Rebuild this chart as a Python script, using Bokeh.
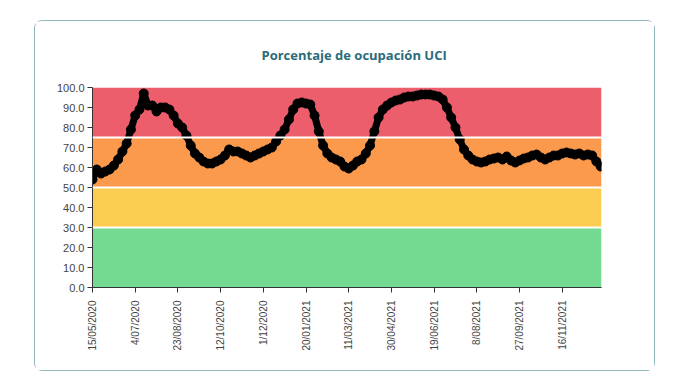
import pandas as pd
from math import pi
from bokeh.plotting import figure
from bokeh.models import (FixedTicker, PrintfTickFormatter, Span, Range1d,
                          Spacer, CustomJSTickFormatter)
from bokeh.layouts import column, row
from bokeh.embed import file_html
from bokeh.resources import INLINE

# ---------------- data ----------------
start_date = "2020-05-15"
step_days = 5
occupancy = [
    54, 59, 57, 58, 59, 61, 64, 68, 72, 79,
    86, 89, 97, 91, 91, 88, 90, 90, 89, 86,
    82, 80, 76, 71, 67, 65, 63, 62, 62, 63,
    64, 66, 69, 68, 68, 67, 66, 65, 66, 67,
    68, 69, 70, 73, 76, 79, 84, 89, 92, 92.5,
    92, 91.5, 86, 78, 71, 67, 65, 64, 63, 60.5,
    59.5, 61, 63, 64, 67, 71, 78, 85, 89, 91,
    92.5, 93.5, 94, 95, 95.5, 95.5, 96, 96.5, 96.5, 96.5,
    96, 95.5, 94, 90, 85, 80, 74, 69, 66, 64,
    63, 62.5, 63, 64, 64.5, 65, 64, 65.5, 63.5, 62.5,
    63.5, 64.5, 65, 66, 66.5, 65, 64, 65, 66, 66,
    67, 67.5, 67, 66.5, 67, 66, 66.5, 66, 63, 60.5,
]
tick_labels = ["15/05/2020", "4/07/2020", "23/08/2020", "12/10/2020", "1/12/2020",
               "20/01/2021", "11/03/2021", "30/04/2021", "19/06/2021", "8/08/2021",
               "27/09/2021", "16/11/2021"]
y_ticks = [0, 10, 20, 30, 40, 50, 60, 70, 80, 90, 100]
band_bottoms = [0, 30, 50, 75]
band_tops = [30, 50, 75, 100]
band_colors = ["#74da91", "#facd50", "#fb994c", "#ec5e6b"]
band_edges = [30, 50, 75]
title_text = "Porcentaje de ocupación UCI"

# ---------------- derived ----------------
dates = pd.date_range(start_date, periods=len(occupancy), freq=f"{step_days}D")
tick_ms = [float(pd.Timestamp(pd.to_datetime(t, format="%d/%m/%Y")).value // 10**6) for t in tick_labels]
x_start = pd.Timestamp(start_date)
x_end = x_start + pd.Timedelta(days=596)

W, H = 621, 351
p = figure(width=W, height=H, x_axis_type="datetime", title=title_text,
           x_range=Range1d(x_start, x_end), y_range=Range1d(0, 100),
           output_backend="svg", toolbar_location=None,
           min_border_left=57, min_border_right=55, min_border_top=66, min_border_bottom=85)
p.styles = {"border": "1px solid #93b8be", "border-radius": "8px"}
p.outline_line_color = None
p.grid.visible = False
p.background_fill_color = "white"
p.border_fill_color = "white"

# title
p.title.align = "left"
p.title.vertical_align = "top"
p.title.text_font = "Open Sans"
p.title.text_font_style = "bold"
p.title.text_font_size = "13px"
p.title.text_color = "#2b6c7b"
p.title.offset = 169
p.title.standoff = 44

# bands
p.quad(left=[x_start] * len(band_bottoms), right=[x_end] * len(band_bottoms),
       bottom=band_bottoms, top=band_tops, fill_color=band_colors, line_color=None)
for e in band_edges:
    p.add_layout(Span(location=e, dimension="width", line_color="white", line_width=2))

# data
p.line(dates, occupancy, line_color="black", line_width=7, line_join="round")
p.scatter(dates, occupancy, size=9, color="black")

# axes
p.yaxis.ticker = FixedTicker(ticks=y_ticks)
p.yaxis.formatter = PrintfTickFormatter(format="%.1f")
p.xaxis.ticker = FixedTicker(ticks=tick_ms)
p.xaxis.formatter = CustomJSTickFormatter(args=dict(tvals=tick_ms, labs=tick_labels), code="""
    let best = 0, bd = Infinity;
    for (let i = 0; i < tvals.length; i++) {
        const d = Math.abs(tvals[i] - tick);
        if (d < bd) { bd = d; best = i; }
    }
    return labs[best];
""")
p.xaxis.major_label_orientation = pi / 2
for ax in (p.xaxis, p.yaxis):
    ax.axis_line_color = "#333333"
    ax.major_tick_line_color = "#333333"
    ax.major_tick_out = 5
    ax.major_tick_in = 0
    ax.minor_tick_line_color = None
    ax.major_label_text_font = "Liberation Sans"
    ax.major_label_text_color = "#444444"
p.yaxis.major_label_text_font_size = "11px"
p.xaxis.major_label_text_font_size = "10px"
p.yaxis.major_label_standoff = 3
p.xaxis.major_label_standoff = 8

layout = column(Spacer(height=20), row(Spacer(width=34), p))
open("out.html", "w").write(file_html(layout, INLINE))
